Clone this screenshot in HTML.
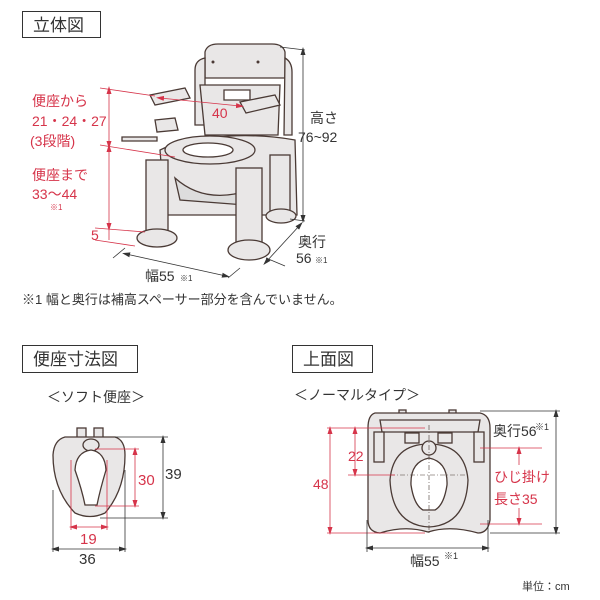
<!DOCTYPE html>
<html><head><meta charset="utf-8"><style>
html,body{margin:0;padding:0;background:#fff;}
svg{display:block;font-family:"Liberation Sans","Noto Sans CJK JP",sans-serif;}
</style></head><body>
<svg width="600" height="600" viewBox="0 0 600 600" xmlns="http://www.w3.org/2000/svg">
<defs>
<marker id="ab" markerWidth="8" markerHeight="8" refX="4" refY="4" orient="auto-start-reverse" markerUnits="userSpaceOnUse"><path d="M0,1.5 L8,4 L0,6.5z" fill="#333"/></marker>
<marker id="ar" markerWidth="8" markerHeight="8" refX="4" refY="4" orient="auto-start-reverse" markerUnits="userSpaceOnUse"><path d="M0,1.5 L8,4 L0,6.5z" fill="#d6344a"/></marker>
</defs>
<g fill="none" stroke="#333" stroke-width="1">
<rect x="22.5" y="11.5" width="78" height="26"/>
<rect x="22.5" y="345.5" width="115" height="27"/>
<rect x="292.5" y="345.5" width="80" height="27"/>
</g>
<g font-size="17" fill="#333">
<text x="33" y="31">立体図</text>
<text x="33" y="365">便座寸法図</text>
<text x="303" y="365">上面図</text>
</g>
<g font-size="14" fill="#333">
<text x="47" y="402">＜ソフト便座＞</text>
<text x="294" y="400">＜ノーマルタイプ＞</text>
</g>

<!-- 3D chair -->
<g stroke="#4a3a35" stroke-width="1.3" fill="#e9e7e7">
<path d="M205,52 Q207,44 218,44 L272,44 Q283,44 285,52 L285,78 L205,78z"/>
<path d="M195,70 Q195,60 205,58 L205,125 L195,125z"/>
<path d="M285,58 Q292,62 292,72 L292,135 L284,135z"/>
<path d="M200,85 L280,85 L278,135 L205,135z"/>
<path d="M224,90 L250,90 L250,100 L224,100z" fill="#fff"/>
<path d="M175,143 Q240,130 295,140 L297,215 L165,215 L160,150z"/>
<ellipse cx="210" cy="150" rx="45" ry="14"/>
<ellipse cx="208" cy="150" rx="25" ry="7" fill="#fff"/>
<path d="M175,178 Q205,205 250,190 L245,205 L180,200z" fill="#ddd"/>
<rect x="146" y="160" width="22" height="72"/>
<rect x="236" y="168" width="26" height="80"/>
<rect x="270" y="155" width="20" height="60"/>
<ellipse cx="157" cy="238" rx="20" ry="9"/>
<ellipse cx="249" cy="250" rx="21" ry="10"/>
<ellipse cx="281" cy="216" rx="15" ry="7"/>
<path d="M150,95 L185,88 L190,98 L155,105z"/>
<path d="M240,102 L275,95 L280,105 L246,113z"/>
<path d="M155,120 L175,118 L178,130 L157,132z"/>
<path d="M122,137 L157,137 L157,141 L122,141z"/>
</g>
<g fill="#4a3a35"><circle cx="213" cy="62" r="1.5"/><circle cx="258" cy="62" r="1.5"/></g>

<!-- 3D dims -->
<g stroke="#333" stroke-width="0.8" fill="none">
<line x1="280" y1="47" x2="305" y2="50"/>
<line x1="290" y1="219" x2="305" y2="221"/>
<line x1="303" y1="51" x2="303" y2="219" marker-start="url(#ab)" marker-end="url(#ab)"/>
<line x1="125" y1="248" x2="113" y2="258"/>
<line x1="228" y1="278" x2="240" y2="268"/>
<line x1="126" y1="254" x2="226" y2="276" marker-start="url(#ab)" marker-end="url(#ab)"/>
<line x1="266" y1="258" x2="285" y2="266"/>
<line x1="266" y1="262" x2="300" y2="225" marker-start="url(#ab)" marker-end="url(#ab)"/>
</g>
<g stroke="#d6344a" stroke-width="0.8" fill="none">
<line x1="100" y1="88" x2="155" y2="96"/>
<line x1="100" y1="145" x2="175" y2="157"/>
<line x1="95" y1="228" x2="145" y2="232"/>
<line x1="95" y1="240" x2="135" y2="246"/>
<line x1="109" y1="90" x2="109" y2="145" marker-start="url(#ar)" marker-end="url(#ar)"/>
<line x1="109" y1="148" x2="109" y2="227" marker-start="url(#ar)" marker-end="url(#ar)"/>
<line x1="109" y1="229" x2="109" y2="240"/>
<line x1="160" y1="98" x2="240" y2="106" marker-start="url(#ar)" marker-end="url(#ar)"/>
</g>
<g font-size="14" fill="#d6344a">
<text x="32" y="106">便座から</text>
<text x="32" y="126">21・24・27</text>
<text x="30" y="146">(3段階)</text>
<text x="32" y="180">便座まで</text>
<text x="32" y="199">33〜44</text>
<text x="50" y="210" font-size="8">※1</text>
<text x="91" y="240">5</text>
<text x="212" y="118">40</text>
</g>
<g font-size="14" fill="#333">
<text x="310" y="123">高さ</text>
<text x="298" y="142">76~92</text>
<text x="298" y="247">奥行</text>
<text x="296" y="263">56</text><text x="315" y="263" font-size="8">※1</text>
<text x="145" y="281">幅55</text><text x="180" y="281" font-size="8">※1</text>
<text x="22" y="304" font-size="13">※1 幅と奥行は補高スペーサー部分を含んでいません。</text>
</g>

<!-- seat -->
<g stroke="#4a3a35" stroke-width="1.3" fill="#e9e7e7">
<rect x="77" y="428" width="9" height="10"/>
<rect x="94" y="428" width="9" height="10"/>
<path d="M65,437 L115,437 Q125,440 125,455 Q125,490 105,513 Q90,520 75,513 Q53,490 53,455 Q54,440 65,437z"/>
<ellipse cx="91" cy="445" rx="8" ry="6"/>
<path d="M91,450 Q105,452 106,470 Q100,490 97,505 L85,505 Q82,490 75,470 Q76,452 91,450z" fill="#fff"/>
</g>
<g stroke="#333" stroke-width="0.8" fill="none">
<line x1="115" y1="437" x2="168" y2="437"/>
<line x1="100" y1="518" x2="168" y2="518"/>
<line x1="163" y1="439" x2="163" y2="516" marker-start="url(#ab)" marker-end="url(#ab)"/>
<line x1="53" y1="490" x2="53" y2="552"/>
<line x1="125" y1="470" x2="125" y2="552"/>
<line x1="55" y1="549" x2="123" y2="549" marker-start="url(#ab)" marker-end="url(#ab)"/>
</g>
<g stroke="#d6344a" stroke-width="0.8" fill="none">
<line x1="95" y1="449" x2="139" y2="449"/>
<line x1="95" y1="506" x2="139" y2="506"/>
<line x1="135" y1="451" x2="135" y2="504" marker-start="url(#ar)" marker-end="url(#ar)"/>
<line x1="71" y1="460" x2="71" y2="530"/>
<line x1="107" y1="460" x2="107" y2="530"/>
<line x1="73" y1="527" x2="105" y2="527" marker-start="url(#ar)" marker-end="url(#ar)"/>
</g>
<text x="138" y="485" font-size="15" fill="#d6344a">30</text>
<text x="165" y="479" font-size="15" fill="#333">39</text>
<text x="80" y="544" font-size="15" fill="#d6344a">19</text>
<text x="79" y="564" font-size="15" fill="#333">36</text>

<!-- top view -->
<g stroke="#4a3a35" stroke-width="1.3" fill="#e9e7e7">
<rect x="399" y="410" width="7" height="5"/><rect x="449" y="410" width="7" height="5"/>
<path d="M375,413 L480,413 Q490,415 490,428 L490,520 Q488,533 478,533 Q450,525 428,532 Q405,525 380,533 Q368,532 368,520 L368,428 Q368,415 375,413z"/>
<path d="M380,420 L480,420 L478,432 L382,432z"/>
<rect x="374" y="432" width="10" height="30"/><rect x="474" y="432" width="10" height="30"/>
<rect x="405" y="433" width="14" height="10"/><rect x="438" y="433" width="14" height="10"/>
<path d="M429,444 Q465,444 468,480 Q466,525 429,527 Q392,525 390,480 Q393,444 429,444z"/>
<circle cx="429" cy="448" r="7"/>
<path d="M429,458 Q448,462 447,485 Q444,505 435,510 L423,510 Q414,505 411,485 Q410,462 429,458z" fill="#fff"/>
</g>
<g stroke="#4a3a35" stroke-width="0.6" stroke-dasharray="5,2,1,2">
<line x1="429" y1="425" x2="429" y2="533"/>
<line x1="390" y1="475" x2="470" y2="475"/>
</g>
<g stroke="#d6344a" stroke-width="0.8" fill="none">
<line x1="327" y1="428" x2="425" y2="428"/>
<line x1="348" y1="475" x2="395" y2="475"/>
<line x1="327" y1="533" x2="425" y2="533"/>
<line x1="330" y1="430" x2="330" y2="531" marker-start="url(#ar)" marker-end="url(#ar)"/>
<line x1="355" y1="430" x2="355" y2="473" marker-start="url(#ar)" marker-end="url(#ar)"/>
<line x1="480" y1="448" x2="542" y2="448"/>
<line x1="480" y1="524" x2="542" y2="524"/>
<line x1="519" y1="450" x2="519" y2="465" marker-start="url(#ar)"/>
<line x1="519" y1="508" x2="519" y2="522" marker-end="url(#ar)"/>
</g>
<g stroke="#333" stroke-width="0.8" fill="none">
<line x1="480" y1="411" x2="560" y2="411"/>
<line x1="490" y1="533" x2="560" y2="533"/>
<line x1="556" y1="413" x2="556" y2="531" marker-start="url(#ab)" marker-end="url(#ab)"/>
<line x1="367" y1="520" x2="367" y2="552"/>
<line x1="488" y1="520" x2="488" y2="552"/>
<line x1="369" y1="548" x2="486" y2="548" marker-start="url(#ab)" marker-end="url(#ab)"/>
</g>
<g font-size="14" fill="#d6344a">
<text x="313" y="489">48</text>
<text x="348" y="461">22</text>
<text x="494" y="482">ひじ掛け</text>
<text x="494" y="504">長さ35</text>
</g>
<g font-size="14" fill="#333">
<text x="493" y="436">奥行56</text><text x="535" y="430" font-size="9">※1</text>
<text x="410" y="566">幅55</text><text x="444" y="559" font-size="9">※1</text>
<text x="522" y="590" font-size="11">単位：cm</text>
</g>
</svg>
</body></html>
